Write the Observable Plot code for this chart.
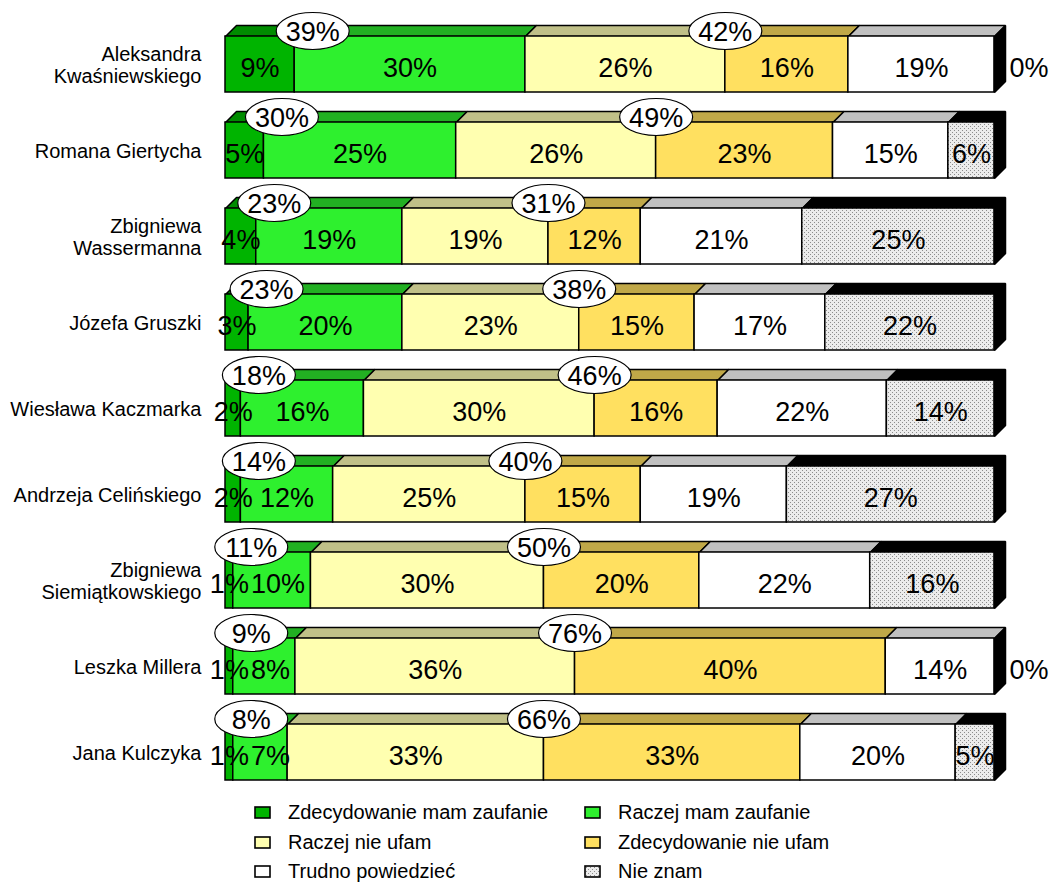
<!DOCTYPE html>
<html><head><meta charset="utf-8">
<script src="https://cdn.jsdelivr.net/npm/d3@7"></script>
<script src="https://cdn.jsdelivr.net/npm/@observablehq/plot@0.6"></script>
<style>
body{margin:0;background:#fff;font-family:"Liberation Sans",Arial,sans-serif;}
#legend{display:grid;grid-template-columns:330px 330px;margin-left:254px;padding-top:3px;}
.item{display:flex;align-items:center;height:29.5px;font-size:20px;color:#000;white-space:nowrap;}
.item svg{margin-right:17px;flex:none;}
</style></head><body><div id="chart"></div><div id="legend"></div>
<script>
// ---- data ----
const candidates = ["Aleksandra\nKwaśniewskiego", "Romana Giertycha", "Zbigniewa\nWassermanna", "Józefa Gruszki", "Wiesława Kaczmarka", "Andrzeja Celińskiego", "Zbigniewa\nSiemiątkowskiego", "Leszka Millera", "Jana Kulczyka"];
const answers = ["Zdecydowanie mam zaufanie", "Raczej mam zaufanie", "Raczej nie ufam", "Zdecydowanie nie ufam", "Trudno powiedzieć", "Nie znam"];
const zdecydowanieMam = [9, 5, 4, 3, 2, 2, 1, 1, 1];
const raczejMam = [30, 25, 19, 20, 16, 12, 10, 8, 7];
const raczejNie = [26, 26, 19, 23, 30, 25, 30, 36, 33];
const zdecydowanieNie = [16, 23, 12, 15, 16, 15, 20, 40, 33];
const trudno = [19, 15, 21, 17, 22, 19, 22, 14, 20];
const nieZnam = [0, 6, 25, 22, 14, 27, 16, 0, 5];
const frontColors = ["#00b400", "#2ef02e", "#ffffb0", "#ffe060", "#ffffff", "url(#stipple)"];
const topColors = ["#008c00", "#22b022", "#c0c088", "#c0a848", "#c0c0c0", "#000000"];

// ---- layout ----
const W = 1056, H = 795, ML = 225, MR = 62, MT = 21, MB = 0;
const kx = (W - ML - MR) / 100, ky = (H - MT - MB) / candidates.length;
const depth = 11, dX = depth / kx, dY = depth / ky, hh = 28 / ky;
const FS = 27;
const series = [zdecydowanieMam, raczejMam, raczejNie, zdecydowanieNie, trudno, nieZnam];
const textW = t => FS * (0.556 * (t.length - 1) + 0.889);

const segs = [];
const ells = [];
candidates.forEach((name, i) => {
  const vals = series.map(s => s[i]);
  const tot = d3.sum(vals);
  let c = 0, prevX = null, prevW = 0;
  const bounds = [];
  vals.forEach((v, s) => {
    const x1 = c / tot * 100; c += v; const x2 = c / tot * 100;
    bounds.push(x2);
    const label = v + "%";
    let lx = (x1 + x2) / 2;
    if (v > 0) {
      const w = textW(label);
      if (prevX !== null) lx = Math.max(lx, prevX + (prevW / 2 + w / 2 + 2) / kx);
      prevX = lx; prevW = w;
    }
    segs.push({row: i, s, v, x1, x2, lx, label});
  });
  ells.push({row: i, gx: bounds[0], gt: vals[0] + vals[1], rx: bounds[2], rt: vals[2] + vals[3]});
});

function topPoly(s) {
  const pts = [];
  segs.filter(d => d.s === s && d.v > 0).forEach(d => {
    const t = d.row - hh, k = d.row + "-" + s;
    pts.push({k, x: d.x1, y: t}, {k, x: d.x1 + dX, y: t - dY}, {k, x: d.x2 + dX, y: t - dY}, {k, x: d.x2, y: t}, {k, x: d.x1, y: t});
  });
  return pts;
}
const sidePts = [];
candidates.forEach((n, i) => {
  const t = i - hh, b = i + hh, k = "side" + i;
  sidePts.push({k, x: 100, y: t}, {k, x: 100 + dX, y: t - dY}, {k, x: 100 + dX, y: b - dY}, {k, x: 100, y: b}, {k, x: 100, y: t});
});

const ellipse = {draw(ctx) {
  const rx = 36.5, ry = 18.5, k = 0.5523;
  ctx.moveTo(rx, 0);
  ctx.bezierCurveTo(rx, ry * k, rx * k, ry, 0, ry);
  ctx.bezierCurveTo(-rx * k, ry, -rx, ry * k, -rx, 0);
  ctx.bezierCurveTo(-rx, -ry * k, -rx * k, -ry, 0, -ry);
  ctx.bezierCurveTo(rx * k, -ry, rx, -ry * k, rx, 0);
  ctx.closePath();
}};

const marks = [];
series.forEach((arr, s) => {
  marks.push(Plot.line(topPoly(s), {x: "x", y: "y", z: "k", fill: topColors[s], stroke: "black", strokeWidth: 1.5, strokeLinejoin: "miter", curve: "linear"}));
  marks.push(Plot.rect(segs.filter(d => d.s === s && d.v > 0), {x1: "x1", x2: "x2", y1: d => d.row - hh, y2: d => d.row + hh, fill: frontColors[s], stroke: "black", strokeWidth: 1.5}));
});
marks.push(Plot.line(sidePts, {x: "x", y: "y", z: "k", fill: "black", stroke: "black", strokeWidth: 1.5, strokeLinejoin: "miter"}));
// value labels
marks.push(Plot.text(segs.filter(d => d.v > 0), {x: "lx", y: "row", text: "label", fontSize: FS, dy: 4}));
marks.push(Plot.text(segs.filter(d => d.v === 0 && d.s === 5), {x: 100, y: "row", text: "label", fontSize: FS, dy: 4, dx: 15, textAnchor: "start"}));
// category labels
marks.push(Plot.text(candidates, {x: 0, y: (d, i) => i, text: d => d, textAnchor: "end", dx: -24, fontSize: 20, lineHeight: 1.1}));
// ellipses
marks.push(Plot.dot(ells, {x: "gx", y: d => d.row - hh, dx: 18, dy: -5.5, symbol: ellipse, fill: "white", stroke: "black", strokeWidth: 1.2}));
marks.push(Plot.text(ells, {x: "gx", y: d => d.row - hh, dx: 18, dy: -4.5, text: d => d.gt + "%", fontSize: FS}));
marks.push(Plot.dot(ells, {x: "rx", y: d => d.row - hh, dx: 0, dy: -5.5, symbol: ellipse, fill: "white", stroke: "black", strokeWidth: 1.2}));
marks.push(Plot.text(ells, {x: "rx", y: d => d.row - hh, dx: 0, dy: -4.5, text: d => d.rt + "%", fontSize: FS}));

const svg = Plot.plot({
  width: W, height: H,
  marginLeft: ML, marginRight: MR, marginTop: MT, marginBottom: MB,
  x: {domain: [0, 100], axis: null},
  y: {domain: [candidates.length - 0.5, -0.5], axis: null},
  style: {fontFamily: "'Liberation Sans', Arial, sans-serif", background: "#fff", color: "#000", overflow: "visible"},
  marks
});
const defs = d3.select(svg).insert("defs", ":first-child");
const pat = defs.append("pattern").attr("id", "stipple").attr("patternUnits", "userSpaceOnUse").attr("width", 4).attr("height", 4);
pat.append("rect").attr("width", 4).attr("height", 4).attr("fill", "#ececec");
pat.append("rect").attr("x", 0).attr("y", 0).attr("width", 1).attr("height", 1).attr("fill", "#8c8c8c");
pat.append("rect").attr("x", 2).attr("y", 2).attr("width", 1).attr("height", 1).attr("fill", "#8c8c8c");
document.getElementById("chart").appendChild(svg);

// legend
const legend = d3.select("#legend");
answers.forEach((a, s) => {
  const it = legend.append("div").attr("class", "item");
  const sw = it.append("svg").attr("width", 17).attr("height", 13);
  sw.append("rect").attr("x", 1).attr("y", 1).attr("width", 15).attr("height", 11)
    .attr("fill", frontColors[s]).attr("stroke", "#000").attr("stroke-width", 1.6);
  it.append("span").text(a);
});
</script></body></html>
